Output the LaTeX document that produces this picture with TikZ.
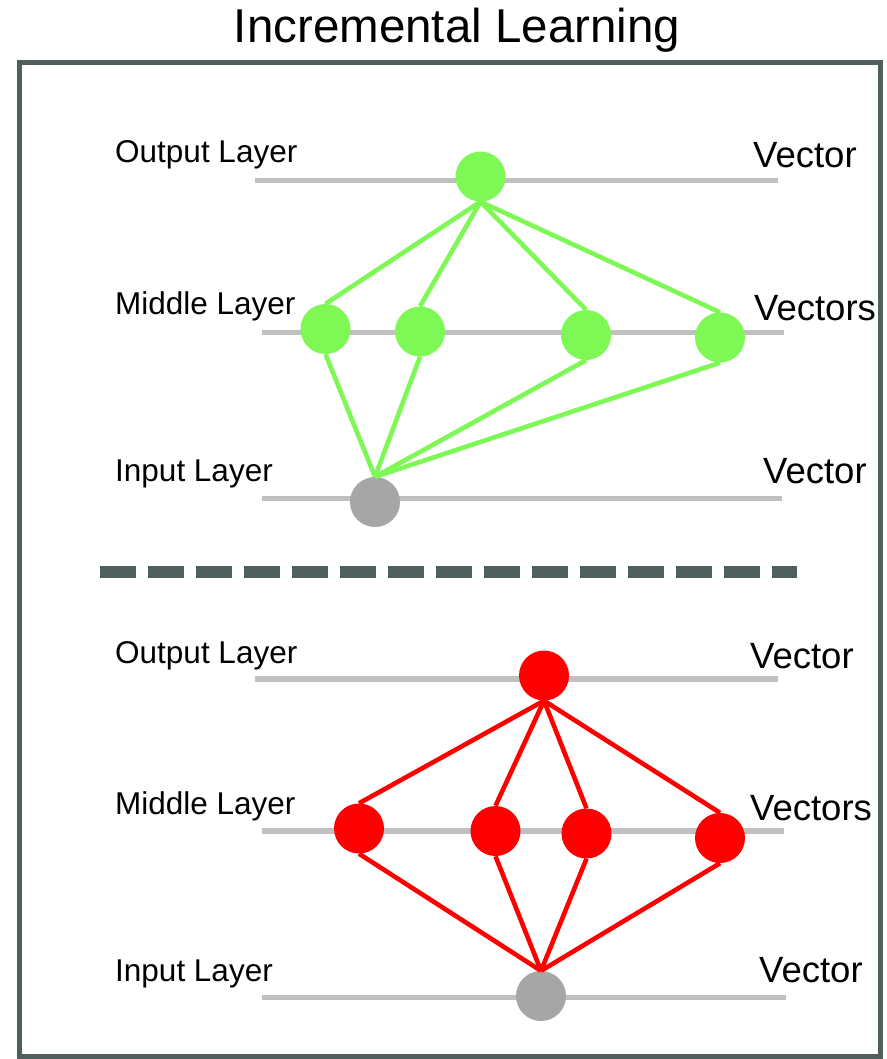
\documentclass[tikz,border=0pt]{standalone}
\usepackage{fontspec}
\setmainfont{Liberation Sans}
\definecolor{framecol}{HTML}{4E5F5E}
\definecolor{layergray}{HTML}{C0C0C0}
\definecolor{nodegray}{HTML}{A6A6A6}
\definecolor{lightgreen}{HTML}{7EF855}
\definecolor{brightred}{HTML}{FF0000}
\begin{document}
\begin{tikzpicture}[x=1pt,y=-1pt,
  neuron/.style={circle,minimum size=50pt,inner sep=0pt,draw=none},
  gneuron/.style={neuron,fill=lightgreen},
  rneuron/.style={neuron,fill=brightred},
  ineuron/.style={neuron,fill=nodegray},
  layerline/.style={draw=layergray,line width=5.5pt},
  gedge/.style={draw=lightgreen,line width=4.6pt},
  redge/.style={draw=brightred,line width=4.6pt},
  layerlabel/.style={anchor=base west,inner sep=0pt,font=\fontsize{31.5}{36}\selectfont},
  veclabel/.style={anchor=base west,inner sep=0pt,font=\fontsize{36.5}{42}\selectfont},
]
\useasboundingbox (0,0) rectangle (886,1059);
\fill[white] (0,0) rectangle (886,1059);
% title
\node[anchor=base,inner sep=0pt,font=\fontsize{47.5}{54}\selectfont] (title) at (457,43) {Incremental Learning};
% frame
\draw[framecol,line width=5pt] (19,62.5) rectangle (880,1056);
% dashed separator
\coordinate (dashL) at (100,571.5);
\coordinate (dashR) at (797,571.5);
\draw[framecol,line width=12pt,dash pattern=on 36pt off 12pt] (dashL) -- (dashR);

% ===== upper network =====
\coordinate (uoL) at (255,180.5); \coordinate (uoR) at (778,180.5);
\coordinate (umL) at (262,332.5); \coordinate (umR) at (784,332.5);
\coordinate (uiL) at (262,498.5); \coordinate (uiR) at (782,498.5);
\draw[layerline] (uoL) -- (uoR);
\draw[layerline] (umL) -- (umR);
\draw[layerline] (uiL) -- (uiR);
\node[layerlabel] (uoLab) at (115,163) {Output Layer};
\node[layerlabel] (umLab) at (115,314) {Middle Layer};
\node[layerlabel] (uiLab) at (115,481) {Input Layer};
\node[veclabel] (uoVec) at (753,168) {Vector};
\node[veclabel] (umVec) at (754,320) {Vectors};
\node[veclabel] (uiVec) at (763,483) {Vector};
\node[gneuron] (uo) at (480.5,176.5) {};
\node[gneuron] (um1) at (325.5,329) {};
\node[gneuron] (um2) at (420,331.5) {};
\node[gneuron] (um3) at (586,335) {};
\node[gneuron] (um4) at (720,337.5) {};
\node[ineuron] (ui) at (375,502) {};
\foreach \m in {um1,um2,um3,um4}{
  \draw[gedge] (uo.south) -- (\m.north);
  \draw[gedge] (\m.south) -- (ui.north);
}

% ===== lower network =====
\coordinate (loL) at (255,679); \coordinate (loR) at (778,679);
\coordinate (lmL) at (262,831); \coordinate (lmR) at (784,831);
\coordinate (liL) at (262,997.5); \coordinate (liR) at (786,997.5);
\draw[layerline] (loL) -- (loR);
\draw[layerline] (lmL) -- (lmR);
\draw[layerline] (liL) -- (liR);
\node[layerlabel] (loLab) at (115,663) {Output Layer};
\node[layerlabel] (lmLab) at (115,814) {Middle Layer};
\node[layerlabel] (liLab) at (115,981) {Input Layer};
\node[veclabel] (loVec) at (750,668) {Vector};
\node[veclabel] (lmVec) at (750,820) {Vectors};
\node[veclabel] (liVec) at (759,982) {Vector};
\node[rneuron] (lo) at (544,675.5) {};
\node[rneuron] (lm1) at (359,828.5) {};
\node[rneuron] (lm2) at (495.5,831) {};
\node[rneuron] (lm3) at (586.5,833.5) {};
\node[rneuron] (lm4) at (720,838) {};
\node[ineuron] (li) at (541,996) {};
\foreach \m in {lm1,lm2,lm3,lm4}{
  \draw[redge] (lo.south) -- (\m.north);
  \draw[redge] (\m.south) -- (li.north);
}
\end{tikzpicture}
\end{document}
